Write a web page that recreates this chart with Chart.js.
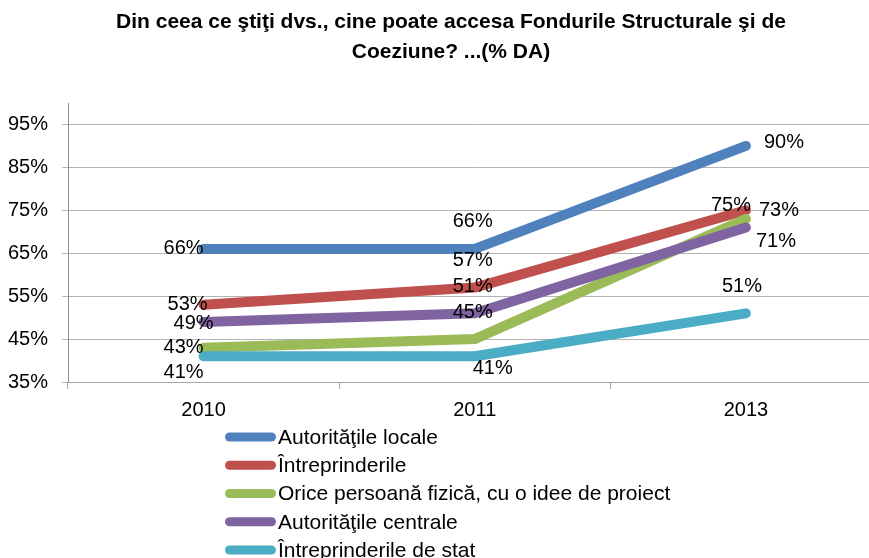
<!DOCTYPE html>
<html lang="ro">
<head>
  <meta charset="UTF-8">
  <title>Fondurile Structurale si de Coeziune</title>
  <script src="https://cdn.jsdelivr.net/npm/chart.js"></script>
  <style>
    body {
      margin: 0;
      background: #fff;
      overflow: hidden;
    }
    .wrap {
      width: 900px;
      height: 558px;
    }
  </style>
</head>
<body>
  <div class="wrap">
    <canvas id="grafic" width="900" height="558"></canvas>
  </div>

  <script>
    const ani = ["2010", "2011", "2013"];
    const serii = [
      "Autorităţile locale",
      "Întreprinderile",
      "Orice persoană fizică, cu o idee de proiect",
      "Autorităţile centrale",
      "Întreprinderile de stat"
    ];
    const autoritatiLocale = [66, 66, 90];
    const intreprinderi = [53, 57, 75];
    const persoaneFizice = [43, 45, 73];
    const autoritatiCentrale = [49, 51, 71];
    const intreprinderiStat = [41, 41, 51];
    const tickuriY = [35, 45, 55, 65, 75, 85, 95];
    const titlu = ["Din ceea ce ştiţi dvs., cine poate accesa Fondurile Structurale şi de", "Coeziune? ...(% DA)"];

    const culori = ["#4F81BD", "#C0504D", "#9BBB59", "#8064A2", "#4BACC6"];
    // deplasarea etichetelor fata de punct (px), ca in original
    const deplasari = [
      [[-20, 0], [-2, -27], [38, -3]],
      [[-16, 0], [-2, -27], [-15, -5]],
      [[-20, 0], [-2, -27], [33, -8]],
      [[-10, 2], [-2, -27], [30, 14]],
      [[-20, 16], [18, 12], [-4, -27]]
    ];
    const font = "'Liberation Sans', Arial, sans-serif";

    const valori = [autoritatiLocale, intreprinderi, persoaneFizice, autoritatiCentrale, intreprinderiStat];

    const etichete = {
      id: "etichete",
      afterDatasetsDraw(chart) {
        const ctx = chart.ctx;
        ctx.save();
        ctx.font = "20px " + font;
        ctx.fillStyle = "#000";
        ctx.textAlign = "center";
        ctx.textBaseline = "middle";
        chart.data.datasets.forEach((ds, i) => {
          chart.getDatasetMeta(i).data.forEach((pt, j) => {
            const d = deplasari[i][j];
            ctx.fillText(ds.data[j] + "%", pt.x + d[0], pt.y + d[1]);
          });
        });
        ctx.restore();
      }
    };

    // titlul, centrat pe tot graficul (zona de desen depaseste fereastra)
    const titluGrafic = {
      id: "titluGrafic",
      afterDraw(chart) {
        const ctx = chart.ctx;
        ctx.save();
        ctx.font = "bold 21px " + font;
        ctx.fillStyle = "#000";
        ctx.textAlign = "center";
        ctx.textBaseline = "middle";
        titlu.forEach((t, i) => ctx.fillText(t, 451, 22 + i * 30));
        ctx.restore();
      }
    };

    const legenda = {
      id: "legenda",
      afterDraw(chart) {
        const ctx = chart.ctx;
        const y0 = chart.chartArea.bottom + 55;
        ctx.save();
        ctx.font = "21px " + font;
        ctx.textBaseline = "middle";
        ctx.lineCap = "round";
        ctx.lineWidth = 9;
        chart.data.datasets.forEach((ds, i) => {
          const y = y0 + i * 28.25;
          ctx.strokeStyle = ds.borderColor;
          ctx.beginPath();
          ctx.moveTo(229.5, y);
          ctx.lineTo(271.5, y);
          ctx.stroke();
          ctx.fillStyle = "#000";
          ctx.fillText(ds.label, 278, y + 1);
        });
        ctx.restore();
      }
    };

    new Chart(document.getElementById("grafic"), {
      type: "line",
      data: {
        labels: ani,
        datasets: serii.map((s, i) => ({
          label: s,
          data: valori[i],
          borderColor: culori[i],
          backgroundColor: culori[i],
          borderWidth: 10,
          borderCapStyle: "round",
          borderJoinStyle: "round",
          pointRadius: 0,
          tension: 0,
          fill: false,
          order: serii.length - i
        }))
      },
      options: {
        responsive: false,
        animation: false,
        layout: { padding: { top: 103, left: 0, right: 18.5, bottom: 133 } },
        plugins: {
          legend: { display: false },
          tooltip: { enabled: false },
          title: { display: false }
        },
        scales: {
          x: {
            offset: true,
            grid: { drawOnChartArea: false, drawTicks: true, tickLength: 7, color: "#A6A6A6", offset: true },
            border: { color: "#A6A6A6" },
            ticks: { color: "#000", font: { family: font, size: 20 }, padding: 9, maxRotation: 0 },
            afterFit(s) { s.height = 43; }
          },
          y: {
            min: 35,
            max: 100,
            afterBuildTicks(s) { s.ticks = tickuriY.map(v => ({ value: v })); },
            grid: { color: "#B4B4B4", tickLength: 6 },
            border: { color: "#8E8E8E" },
            ticks: {
              color: "#000",
              font: { family: font, size: 20 },
              padding: 14,
              callback: v => v + "%"
            },
            afterFit(s) { s.width = 68; }
          }
        }
      },
      plugins: [etichete, titluGrafic, legenda]
    });
  </script>
</body>
</html>
